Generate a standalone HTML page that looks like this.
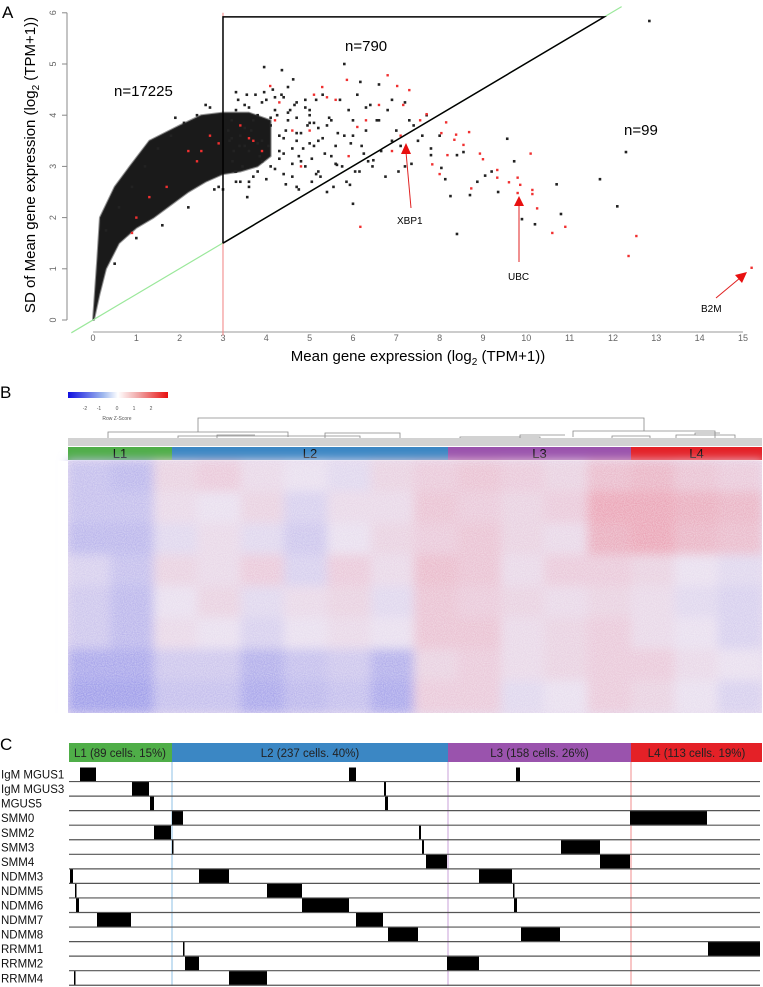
<!DOCTYPE html>
<html><head><meta charset="utf-8"><style>
html,body{margin:0;padding:0;background:#fff;}
svg{display:block;font-family:"Liberation Sans",sans-serif;}
</style></head><body>
<svg id="fig" width="763" height="987" viewBox="0 0 763 987">
 <defs>
  <linearGradient id="keyg" x1="0" x2="1" y1="0" y2="0">
   <stop offset="0" stop-color="#1010e0"/><stop offset="0.35" stop-color="#9fb8ee"/><stop offset="0.5" stop-color="#ffffff"/><stop offset="0.7" stop-color="#f0a8a8"/><stop offset="1" stop-color="#e81010"/>
  </linearGradient>
  <filter id="blur3"><feGaussianBlur stdDeviation="5"/></filter>
  <filter id="noise" x="0" y="0" width="100%" height="100%">
   <feTurbulence type="fractalNoise" baseFrequency="0.9" numOctaves="1" seed="3"/>
   <feColorMatrix type="matrix" values="0 0 0 0 1  0 0 0 0 1  0 0 0 0 1  0 0 0 -1.2 0.9"/>
  </filter>
 </defs>
 <g id="panelA">
  <text x="2" y="18" font-size="17">A</text>
  <g id="axesA"></g>
  <g id="cloud"></g>
  <g id="pts"></g>
  <g id="linesA"></g>
  <text x="114" y="96" font-size="15">n=17225</text>
  <text x="345" y="51" font-size="15">n=790</text>
  <text x="624" y="135" font-size="15">n=99</text>
  <text x="397" y="224" font-size="10">XBP1</text>
  <line x1="411" y1="208" x2="406" y2="152" stroke="#e02020" stroke-width="1"/>
  <polygon points="406,143 401,154 411,154" fill="#e81010"/>
  <text x="508" y="280" font-size="10">UBC</text>
  <line x1="519" y1="262" x2="519" y2="205" stroke="#e02020" stroke-width="1"/>
  <polygon points="519,196 514,206 524,206" fill="#e81010"/>
  <text x="701" y="312" font-size="10">B2M</text>
  <line x1="716" y1="298" x2="740" y2="278" stroke="#e02020" stroke-width="1"/>
  <polygon points="747,272 735,275 742,283" fill="#e81010"/>
 </g>
 <g id="panelB">
  <text x="0" y="398" font-size="17">B</text>
  <rect x="68" y="392" width="100" height="6" fill="url(#keyg)"/>
  <g font-size="5" fill="#555" text-anchor="middle">
   <text x="85" y="410">-2</text><text x="99" y="410">-1</text><text x="117" y="410">0</text><text x="134" y="410">1</text><text x="151" y="410">2</text>
   <text x="117" y="420">Row Z-Score</text>
  </g>
  <g id="dendro" stroke="#888" stroke-width="0.8" fill="none">
   <path d="M198,432 V418 H644 V431"/>
   <path d="M108,440 V432 H288 V437"/>
   <path d="M573,437 V431 H715 V438"/>
   <path d="M178,439 V436 H360 V439 M217,438 V435 H255 M325,439 V433 H400 V438 M460,440 V437 H540 V440 M520,438 V435 H565 M676,440 V435 H735 V440 M695,435 V433 H720 M612,439 V436 H650 V440"/>
  </g>
  <rect x="68" y="438" width="694" height="8" fill="#d2d2d2"/>
  <g id="hmBars"></g>
  <g id="heat"></g>
 </g>
 <g id="panelC">
  <text x="0" y="750" font-size="17">C</text>
  <g id="cHead"></g>
  <g id="cRows"></g>
 </g>
</svg>
<script>
const xTicks=[0,1,2,3,4,5,6,7,8,9,10,11,12,13,14,15];
const yTicks=[0,1,2,3,4,5,6];
const cloudLowerX=[0.02,0.15,0.3,0.6,1.0,1.4,1.8,2.2,2.6,3.0,3.4,3.8,4.1];
const cloudLowerY=[0,0.5,1.0,1.5,1.8,2.0,2.25,2.5,2.7,2.85,2.9,3.0,3.2];
const cloudUpperX=[4.1,3.6,3.0,2.5,2.0,1.3,0.85,0.5,0.16,0.1,0.05,0];
const cloudUpperY=[3.9,4.05,4.05,4.0,3.8,3.5,3.0,2.6,2.0,1.2,0.6,0];
const blackX=[12.84,12.3,11.7,12.1,10.7,10.8,10.2,9.9,9.56,9.72,9.35,8.4,8.25,8.7,8.87,9.05,9.2,7.8,7.8,8.04,8.13,8.4,8.55,3.95,4.36,5.8,4.62,6.17,3.56,6.0,5.63,5.05,5.4,4.7,5.93,6.47,
3.2,3.3,3.4,3.5,3.6,3.7,3.8,3.9,4.0,4.1,4.2,4.3,3.25,3.45,3.65,3.85,4.05,4.25,4.45,4.65,3.3,3.5,3.7,3.9,4.1,4.3,4.5,4.7,4.9,3.35,3.55,3.75,3.95,4.15,4.35,4.55,4.75,4.95,5.15,
3.4,3.6,3.8,4.0,4.4,4.8,5.2,5.0,5.3,5.5,5.7,5.9,6.1,6.3,5.1,5.4,5.6,5.8,6.0,6.2,6.4,6.6,6.8,7.0,7.2,5.2,5.5,5.75,6.05,6.35,6.65,6.9,7.1,7.4,7.6,4.6,4.9,5.25,5.55,5.85,6.15,6.45,6.75,7.05,7.35,
3.2,3.5,3.8,4.1,4.4,4.7,5.0,3.3,3.6,3.9,4.2,4.5,6.6,6.9,7.3,7.7,8.0,7.5,7.2,3.15,3.22,3.28,3.12,3.38,
4.4,4.6,4.8,5.0,5.2,4.5,4.7,4.9,5.1,5.3,4.3,4.6,4.85,5.05,5.35,4.4,4.7,5.0,5.45,5.65,4.2,4.45,4.75,5.15,5.6,6.0,6.3,6.55,6.25,5.95,
0.3,0.6,0.9,1.2,1.5,1.8,2.1,2.4,2.7,0.5,1.0,1.6,2.2,2.8,1.9,2.9,3.0,3.3,3.6,2.6];
const blackY=[5.84,3.28,2.75,2.22,2.65,2.07,1.87,1.97,3.54,3.1,2.5,1.68,2.42,2.44,2.7,2.82,2.9,3.35,3.22,2.97,2.75,3.22,3.28,4.94,4.88,5.0,4.7,4.65,2.4,2.27,3.03,2.7,2.5,2.6,2.64,3.12,
3.9,4.1,3.6,4.2,3.3,3.9,4.0,3.5,4.3,3.8,4.1,3.6,3.3,3.0,3.7,3.2,3.4,4.0,3.7,4.2,2.9,3.4,2.8,3.1,3.0,3.3,3.9,3.5,4.3,4.3,4.4,4.4,4.45,4.5,4.4,4.1,3.2,3.8,4.3,
2.7,2.6,2.9,2.75,2.85,3.1,3.5,4.1,4.4,3.9,4.3,4.1,4.4,3.7,3.4,3.8,3.4,3.6,3.9,3.4,4.2,3.9,4.1,3.7,4.25,2.9,3.2,3.0,2.9,3.1,3.3,3.5,3.4,3.8,3.6,2.8,3.0,2.8,2.6,2.7,2.9,3.0,2.8,2.9,3.05,
3.55,3.75,3.45,3.95,3.25,3.65,3.85,4.45,4.15,4.25,4.35,4.55,4.6,4.3,3.9,4.0,3.6,3.5,3.0,3.5,3.1,2.9,3.7,3.4,
3.55,3.35,3.65,3.45,3.75,4.05,3.95,4.15,3.85,3.55,3.15,3.05,3.35,3.15,3.25,4.35,4.25,4.0,3.95,3.65,2.95,2.65,2.55,2.85,3.05,3.6,4.15,3.9,3.25,3.45,
1.75,2.2,2.6,3.0,3.35,3.6,3.85,4.0,4.15,1.1,1.6,1.85,2.2,2.55,3.95,2.6,2.55,2.7,2.7,4.2];
const redX=[12.54,12.36,15.2,10.6,10.9,10.25,10.14,10.14,9.86,9.8,9.8,9.6,9.33,9.33,10.1,8.93,9.0,8.73,8.68,8.38,8.18,8.55,8.0,7.83,8.15,8.04,8.34,6.8,7.02,7.3,7.16,7.55,7.7,6.17,4.09,5.29,5.86,6.1,
3.4,3.9,4.3,4.8,5.1,5.6,6.3,6.6,7.1,4.6,5.9,3.6,2.9,2.5,2.2,1.7,1.3,0.9,1.0,2.4,2.7,5.4,6.9,4.2,5.0,3.7];
const redY=[1.64,1.25,1.02,1.7,1.82,2.18,2.54,2.46,2.64,2.78,2.48,2.69,2.78,2.93,3.25,3.25,3.14,2.57,3.67,3.62,3.22,3.42,2.85,3.04,3.86,3.65,3.52,4.78,4.57,4.49,4.2,3.9,4.02,1.82,4.57,4.55,4.69,3.77,
3.8,3.3,4.25,3.0,4.4,4.3,3.9,4.2,3.6,3.7,3.2,3.55,3.45,3.3,3.3,2.6,2.4,1.7,2.0,3.1,3.6,4.35,3.3,3.9,3.7,3.5];
const groupNames=["L1","L2","L3","L4"];
const groupStart=[68,172,448,631];
const groupEnd=[172,448,631,762];
const groupColors=["#4fae48","#3b87c4","#9a53ad","#e42127"];
const heatValues=[
[-0.4,-0.5,0.2,0.3,0.1,0.0,-0.1,0.2,0.3,0.4,0.3,0.2,0.5,0.6,0.4,0.3],
[-0.4,-0.4,0.1,0.0,0.2,-0.2,0.1,0.1,0.4,0.3,0.2,0.3,0.8,0.8,0.7,0.6],
[-0.5,-0.5,-0.1,0.1,-0.1,-0.3,0.0,0.2,0.3,0.4,0.2,0.1,0.7,0.8,0.6,0.5],
[-0.2,-0.4,0.2,0.1,0.3,-0.2,0.3,0.1,0.5,0.4,0.1,0.3,0.3,0.2,0.0,-0.1],
[-0.3,-0.5,0.0,0.2,-0.1,0.1,0.2,-0.1,0.4,0.3,0.2,0.1,0.2,0.1,-0.1,-0.2],
[-0.3,-0.5,0.1,0.0,-0.2,0.0,0.1,0.0,0.4,0.4,0.1,0.2,0.3,0.1,0.0,-0.2],
[-0.7,-0.7,-0.3,-0.3,-0.6,-0.4,-0.3,-0.6,0.2,0.3,0.1,0.2,0.3,0.3,0.1,0.0],
[-0.8,-0.8,-0.4,-0.4,-0.7,-0.5,-0.4,-0.7,0.3,0.3,-0.1,0.0,0.3,0.2,0.0,-0.2]];
const headerLabels=["L1 (89 cells. 15%)","L2 (237 cells. 40%)","L3 (158 cells. 26%)","L4 (113 cells. 19%)"];
const sampleNames=["IgM MGUS1","IgM MGUS3","MGUS5","SMM0","SMM2","SMM3","SMM4","NDMM3","NDMM5","NDMM6","NDMM7","NDMM8","RRMM1","RRMM2","RRMM4"];
const sampleBlocks=[
[[80,96],[349,356],[516,520]],
[[132,149],[384,386]],
[[150,154],[385,388]],
[[172,183],[630,707]],
[[154,171],[419,421]],
[[172,173],[422,424],[561,600]],
[[426,447],[600,630]],
[[70,73],[199,229],[479,512]],
[[75,76],[267,302],[513,514]],
[[76,79],[302,349],[514,517]],
[[97,131],[356,383]],
[[388,418],[521,560]],
[[183,184],[708,760]],
[[185,199],[447,479]],
[[74,75],[229,267]]];

const NS="http://www.w3.org/2000/svg";
function mk(tag,attrs,parent){const e=document.createElementNS(NS,tag);for(const k in attrs)e.setAttribute(k,attrs[k]);parent.appendChild(e);return e;}
const sx=v=>93+v*43.33;
const sy=v=>320-v*51.2;

const ax=document.getElementById('axesA');
const yl=mk('line',{x1:67,y1:sy(0),x2:67,y2:sy(6),stroke:'#888','stroke-width':1},ax);


yTicks.forEach(t=>{
 const tk=mk('line',{x1:62,x2:67,y1:sy(t),y2:sy(t),stroke:'#888'},ax);
 
 
 const tx=mk('text',{x:0,y:0,'font-size':9,fill:'#666','text-anchor':'middle',transform:`translate(56,${sy(t)}) rotate(-90)`},ax);
 tx.textContent=t;
 
 
});
const xl=mk('line',{x1:sx(0),y1:332,x2:sx(15),y2:332,stroke:'#999','stroke-width':1},ax);


xTicks.forEach(t=>{
 const tx=mk('text',{x:sx(t),y:341,'font-size':9,fill:'#666','text-anchor':'middle'},ax);
 tx.textContent=t;
 
 
});
const xt=mk('text',{x:418,y:361,'font-size':15,'text-anchor':'middle'},ax);
xt.innerHTML='Mean gene expression (log<tspan font-size="10" dy="4">2</tspan><tspan dy="-4"> (TPM+1))</tspan>';


const yt=mk('text',{x:0,y:0,'font-size':15,'text-anchor':'middle',transform:'translate(35,165) rotate(-90)'},ax);
yt.innerHTML='SD of Mean gene expression (log<tspan font-size="10" dy="4">2</tspan><tspan dy="-4"> (TPM+1))</tspan>';



const cl=document.getElementById('cloud');
let pp=[];
cloudLowerX.forEach((x,i)=>pp.push(sx(x)+','+sy(cloudLowerY[i])));
cloudUpperX.forEach((x,i)=>pp.push(sx(x)+','+sy(cloudUpperY[i])));
const halo=mk('polygon',{points:pp.join(' '),fill:'#1a1a1a',stroke:'#333','stroke-width':2,'stroke-opacity':0.5,'stroke-linejoin':'round'},cl);



const la=document.getElementById('linesA');
const gl=mk('line',{x1:sx(-0.5),y1:sy(-0.25),x2:sx(12.2),y2:sy(6.12),stroke:'#9be89b','stroke-width':1.2},la);


const rl=mk('line',{x1:sx(3),y1:sy(-0.3),x2:sx(3),y2:sy(6),stroke:'#f08080','stroke-width':1},la);


const tri=mk('polyline',{points:`${sx(3)},${sy(1.5)} ${sx(3)},${sy(5.92)} ${sx(11.8)},${sy(5.92)} ${sx(3)},${sy(1.5)}`,fill:'none',stroke:'#000','stroke-width':1.5},la);



const pg=document.getElementById('pts');
blackX.forEach((x,i)=>{
 const c=mk('rect',{x:sx(x)-1.3,y:sy(blackY[i])-1.3,width:2.6,height:2.6,fill:'#222'},pg);
 
 
});
redX.forEach((x,i)=>{
 const c=mk('rect',{x:sx(x)-1.2,y:sy(redY[i])-1.2,width:2.4,height:2.4,fill:'#f03030'},pg);
 
 
});

const hb=document.getElementById('hmBars');
groupNames.forEach((g,i)=>{
 const r=mk('rect',{x:groupStart[i],y:447,width:groupEnd[i]-groupStart[i],height:13,fill:groupColors[i]},hb);
 
 
 const t=mk('text',{x:(groupStart[i]+groupEnd[i])/2,y:458,'font-size':13,'text-anchor':'middle',fill:'#111'},hb);
 t.textContent=g;
 
 
});
const hm=document.getElementById('heat');
mk('rect',{x:68,y:461,width:694,height:252,fill:'#e6d9ee'},hm);
const hgBlur=mk('g',{filter:'url(#blur3)'},hm);
const nC=heatValues[0].length,nR=heatValues.length,cw=694/nC,rh=252/nR;
function col(v){
 const a=Math.min(1,Math.abs(v));
 const base=[232,222,238];
 const tgt=v<0?[140,140,232]:[234,150,168];
 return 'rgb('+base.map((b,k)=>Math.round(b+(tgt[k]-b)*a)).join(',')+')';
}
heatValues.forEach((row,r)=>row.forEach((v,c)=>{
 const e=mk('rect',{x:68+c*cw-1,y:461+r*rh-1,width:cw+2,height:rh+2,fill:col(v)},hgBlur);
 
 
}));
mk('rect',{x:68,y:461,width:694,height:252,filter:'url(#noise)',opacity:0.55},hm);
mk('rect',{x:0,y:713,width:763,height:20,fill:'#fff'},hm);
mk('rect',{x:762,y:455,width:3,height:262,fill:'#fff'},hm);
mk('rect',{x:58,y:461,width:10,height:262,fill:'#fff'},hm);

const ch=document.getElementById('cHead');
headerLabels.forEach((h,i)=>{
 const r=mk('rect',{x:groupStart[i]+(i==0?1:0),y:743,width:groupEnd[i]-groupStart[i]-(i==0?1:0),height:19,fill:groupColors[i]},ch);
 
 
 const t=mk('text',{x:(groupStart[i]+groupEnd[i])/2,y:757,'font-size':11.5,'text-anchor':'middle',fill:'#222'},ch);
 t.textContent=h;
 
 
});
const cr=document.getElementById('cRows');
const divCols=['#8fc1e6','#c8a0d8','#f08c8c'];
[1,2,3].forEach(i=>{
 const d=mk('line',{x1:groupStart[i],x2:groupStart[i],y1:762,y2:986,stroke:divCols[i-1],'stroke-width':1},cr);
 
 
});
const rowH=14.55;
sampleNames.forEach((n,i)=>{
 const top=767+i*rowH, bot=top+rowH;
 const t=mk('text',{x:1,y:bot-3,'font-size':11.5,fill:'#111'},cr);
 t.textContent=n;
 
 
 const l=mk('line',{x1:69,x2:760,y1:bot,y2:bot,stroke:'#555','stroke-width':1.2},cr);
 
 
 sampleBlocks[i].forEach(b=>{
  const r=mk('rect',{x:b[0],y:top+0.5,width:Math.max(1.5,b[1]-b[0]),height:rowH-1,fill:'#000'},cr);
  
  
 });
});
</script>
</body></html>
